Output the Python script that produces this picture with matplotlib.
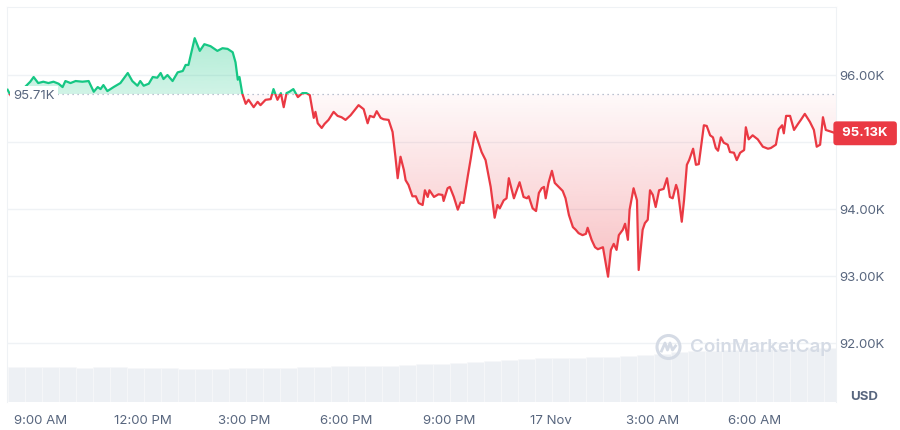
import numpy as np
import matplotlib
matplotlib.use("Agg")
import matplotlib.pyplot as plt
from matplotlib.path import Path
from matplotlib.patches import Rectangle, Circle
import matplotlib.transforms as mtransforms

# minutes since 8:00 AM (16 Nov) and BTC price in thousands USD
minutes = [2, 9, 28, 42, 48, 56, 65, 74, 83, 92, 99, 104, 113, 122, 134, 145, 154, 161, 166, 171,
           178, 189, 201, 214, 222, 231, 236, 242, 251, 258, 266, 272, 277, 284, 293, 302, 311, 316, 321, 332,
           341, 349, 360, 372, 381, 390, 399, 404, 408, 411, 416, 422, 427, 436, 443, 448, 457, 466, 471, 478,
           484, 489, 494, 499, 506, 514, 522, 529, 535, 542, 545, 549, 556, 561, 568, 577, 584, 591, 598, 607,
           621, 630, 637, 641, 648, 653, 660, 665, 674, 681, 686, 690, 695, 701, 704, 709, 716, 722, 727, 734,
           738, 743, 746, 754, 762, 769, 771, 778, 782, 789, 796, 801, 806, 814, 819, 826, 831, 838, 845, 854,
           861, 866, 870, 877, 882, 886, 895, 902, 905, 912, 918, 921, 928, 934, 939, 944, 948, 951, 956, 962,
           967, 974, 981, 986, 992, 999, 1004, 1009, 1016, 1022, 1025, 1032, 1038, 1043, 1052, 1057, 1061, 1066, 1071, 1076,
           1080, 1087, 1091, 1096, 1099, 1106, 1112, 1115, 1122, 1126, 1131, 1135, 1140, 1145, 1151, 1159, 1165, 1170, 1175, 1181,
           1184, 1191, 1195, 1200, 1204, 1211, 1216, 1221, 1230, 1235, 1241, 1246, 1251, 1255, 1260, 1265, 1272, 1276, 1283, 1288,
           1294, 1301, 1304, 1309, 1316, 1325, 1334, 1343, 1348, 1357, 1362, 1368, 1371, 1375, 1382, 1389, 1396, 1401, 1408, 1417,
           1424, 1429, 1435, 1440, 1445, 1463]
price = [95.78, 95.67, 95.78, 95.90, 95.97, 95.88, 95.90, 95.88, 95.90, 95.87, 95.82, 95.91, 95.88, 95.91, 95.90, 95.91, 95.75, 95.82, 95.79, 95.85,
         95.76, 95.82, 95.88, 96.03, 95.91, 95.84, 95.91, 95.84, 95.87, 95.97, 95.96, 96.03, 95.94, 96.00, 95.91, 96.04, 96.06, 96.15, 96.15, 96.55,
         96.36, 96.46, 96.43, 96.36, 96.40, 96.39, 96.34, 96.19, 95.93, 95.97, 95.72, 95.57, 95.63, 95.52, 95.60, 95.55, 95.63, 95.64, 95.79, 95.63,
         95.73, 95.52, 95.73, 95.75, 95.79, 95.67, 95.73, 95.73, 95.70, 95.36, 95.45, 95.28, 95.21, 95.27, 95.33, 95.45, 95.39, 95.37, 95.33, 95.40,
         95.55, 95.49, 95.28, 95.39, 95.37, 95.46, 95.36, 95.34, 95.33, 95.15, 94.78, 94.46, 94.78, 94.58, 94.43, 94.36, 94.19, 94.19, 94.09, 94.06,
         94.28, 94.18, 94.28, 94.18, 94.22, 94.21, 94.12, 94.31, 94.33, 94.18, 93.99, 94.10, 94.09, 94.51, 94.76, 95.15, 95.03, 94.85, 94.73, 94.33,
         93.87, 94.06, 94.01, 94.13, 94.16, 94.46, 94.16, 94.33, 94.40, 94.18, 94.16, 94.19, 94.01, 93.97, 94.24, 94.31, 94.33, 94.16, 94.39, 94.57,
         94.39, 94.33, 94.27, 94.16, 93.91, 93.73, 93.69, 93.64, 93.61, 93.63, 93.72, 93.54, 93.43, 93.40, 93.43, 93.19, 92.99, 93.39, 93.48, 93.39,
         93.61, 93.69, 93.78, 93.54, 93.99, 94.31, 94.13, 93.09, 93.69, 93.79, 93.84, 94.28, 94.21, 94.03, 94.28, 94.30, 94.46, 94.18, 94.16, 94.36,
         94.28, 93.81, 94.13, 94.66, 94.73, 94.90, 94.66, 94.67, 95.25, 95.24, 95.10, 95.07, 94.91, 94.87, 95.07, 94.99, 94.96, 94.85, 94.84, 94.73,
         94.84, 94.88, 95.22, 95.04, 95.10, 95.04, 94.93, 94.90, 94.91, 94.96, 95.19, 95.25, 95.13, 95.39, 95.39, 95.18, 95.27, 95.33, 95.42, 95.30,
         95.18, 94.93, 94.96, 95.37, 95.18, 95.13]

# relative traded volume, 30 minute buckets
volume = [35, 35, 35, 35, 34, 35, 35, 34, 34, 34, 33, 33, 33, 34, 34, 34, 34, 35, 35, 36,
          36, 36, 36, 37, 38, 38, 39, 40, 41, 42, 43, 44, 44, 44, 45, 45, 46, 47, 48, 50,
          51, 51, 52, 52, 53, 53, 53, 54, 54]

open_price = 95.71
last_price = 95.13
tick_minutes = [60, 240, 420, 600, 780, 960, 1140, 1320]
tick_labels = ["9:00 AM", "12:00 PM", "3:00 PM", "6:00 PM", "9:00 PM", "17 Nov", "3:00 AM", "6:00 AM"]
price_ticks = [92, 93, 94, 95, 96]

GREEN = "#16c784"
RED = "#ea3943"
GREY = "#58667e"
GRID = "#eff2f5"

plt.rcParams["font.family"] = ["Inter", "DejaVu Sans"]

t = np.array(minutes, dtype=float)
p = np.array(price)

fig = plt.figure(figsize=(9, 4.3), dpi=100)
ax = fig.add_axes([7 / 900, 1 - 402 / 430, 829 / 900, 395 / 430])
ax2 = ax.twinx()
ax.set_zorder(ax2.get_zorder() + 1)
ax.patch.set_visible(False)

# volume bars
vt = np.arange(len(volume)) * 30 + 17
ax2.bar(vt, volume, width=30, color="#edf0f4", edgecolor="#f7f8fa", lw=0.5)
ax2.set_ylim(0, 395)
ax2.set_yticks([])
for s in ax2.spines.values():
    s.set_visible(False)

xmin, xmax = 1, 1463
ax.set_xlim(xmin, xmax)
ax.set_ylim(91.12, 97.015)

# gradient fills above / below the opening price
def gradient_fill(where, y0, y1, color, a0, a1):
    coll = ax.fill_between(t, p, open_price, where=where, interpolate=True,
                           color="none", lw=0)
    paths = coll.get_paths()
    if not paths:
        return
    clip = Path.make_compound_path(*paths)
    rgb = matplotlib.colors.to_rgb(color)
    n = 256
    img = np.zeros((n, 1, 4))
    img[:, 0, :3] = rgb
    img[:, 0, 3] = np.linspace(a0, a1, n)
    im = ax.imshow(img, extent=[xmin, xmax, y0, y1], origin="lower",
                   aspect="auto", zorder=1, interpolation="bilinear")
    im.set_clip_path(clip, ax.transData)

gradient_fill(p >= open_price, open_price, p.max(), GREEN, 0.2, 0.34)
gradient_fill(p <= open_price, p.min(), open_price, RED, 0.32, 0.03)

# price line, green above open and red below
up, = ax.plot(t, p, color=GREEN, lw=1.6, zorder=3, solid_joinstyle="round")
dn, = ax.plot(t, p, color=RED, lw=1.6, zorder=3, solid_joinstyle="round")
up.set_clip_path(Rectangle((xmin, open_price), xmax - xmin, 10, transform=ax.transData))
dn.set_clip_path(Rectangle((xmin, open_price - 10), xmax - xmin, 10, transform=ax.transData))

ax.axhline(open_price, color="#a6b0c3", lw=0.9, ls=(0, (1, 3)), zorder=2)

# axes styling; the 95.00K label sits under the last-price tag
ax.set_yticks(price_ticks)
ax.set_yticklabels(["" if v == 95 else "%.2fK" % v for v in price_ticks])
ax.yaxis.tick_right()
ax.set_xticks(tick_minutes)
ax.set_xticklabels(tick_labels)
ax.tick_params(axis="both", length=0, colors=GREY, labelsize=9.5)
ax.tick_params(axis="y", pad=2)
ax.tick_params(axis="x", pad=9)
ax.grid(axis="y", color=GRID, lw=1)
ax.set_axisbelow(True)
for side in ["top", "left", "right"]:
    ax.spines[side].set_color(GRID)
ax.spines["bottom"].set_visible(False)

trans = mtransforms.blended_transform_factory(ax.transAxes, ax.transData)
ax.text(0.008, open_price - 0.02, "%.2fK" % open_price, transform=trans, ha="left",
        va="center", color=GREY, fontsize=9.5, zorder=5,
        bbox=dict(boxstyle="square,pad=0.25", fc="white", ec="none"))
ax.text(1.004, last_price, " %.2fK " % last_price, transform=trans, ha="left",
        va="center", color="white", fontsize=9.5, fontweight="bold", zorder=6,
        clip_on=False,
        bbox=dict(boxstyle="round,pad=0.45,rounding_size=0.25", fc=RED, ec="none"))

fig.text(864 / 900, 1 - 397 / 430, "USD", ha="center", va="center", color=GREY,
         fontsize=9.5, fontweight="bold")

# watermark
fig.text(690 / 900, 1 - 347 / 430, "CoinMarketCap", ha="left", va="center",
         color="#d5dbe5", fontsize=13.5, fontweight="semibold")
fig.patches.append(Circle((6.685, 0.83), 0.115, transform=fig.dpi_scale_trans,
                          fill=False, ec="#d5dbe5", lw=2.2))
wx = [6.615, 6.65, 6.675, 6.70, 6.725, 6.755]
wy = [0.79, 0.87, 0.80, 0.87, 0.80, 0.84]
fig.lines.append(matplotlib.lines.Line2D(wx, wy, transform=fig.dpi_scale_trans,
                                          color="#d5dbe5", lw=2))

fig.savefig("out.png", dpi=100)
